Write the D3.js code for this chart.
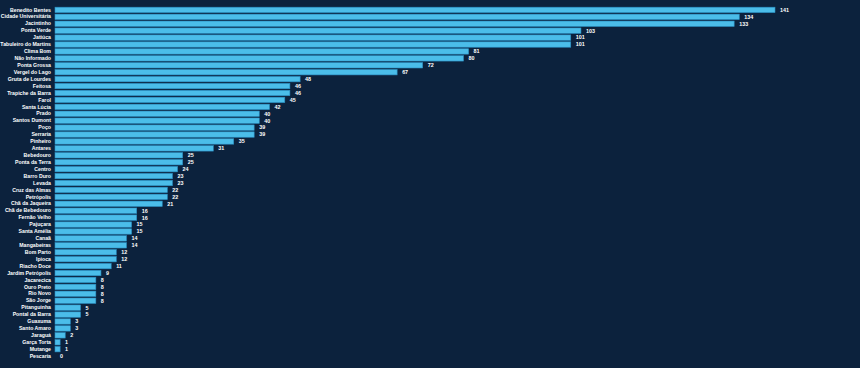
<!DOCTYPE html>
<html><head><meta charset="utf-8">
<script src="https://cdn.jsdelivr.net/npm/d3@7"></script>
<style>
html,body{margin:0;padding:0;background:#0c223d;}
svg{display:block;}
</style></head>
<body>
<svg id="chart" width="860" height="368"></svg>
<script>
const categories = ["Benedito Bentes","Cidade Universitária","Jacintinho","Ponta Verde","Jatiúca","Tabuleiro do Martins","Clima Bom","Não Informado","Ponta Grossa","Vergel do Lago","Gruta de Lourdes","Feitosa","Trapiche da Barra","Farol","Santa Lúcia","Prado","Santos Dumont","Poço","Serraria","Pinheiro","Antares","Bebedouro","Ponta da Terra","Centro","Barro Duro","Levada","Cruz das Almas","Petrópolis","Chã da Jaqueira","Chã de Bebedouro","Fernão Velho","Pajuçara","Santa Amélia","Canaã","Mangabeiras","Bom Parto","Ipioca","Riacho Doce","Jardim Petrópolis","Jacarecica","Ouro Preto","Rio Novo","São Jorge","Pitanguinha","Pontal da Barra","Guaxuma","Santo Amaro","Jaraguá","Garça Torta","Mutange","Pescaria"];
const values = [141,134,133,103,101,101,81,80,72,67,48,46,46,45,42,40,40,39,39,35,31,25,25,24,23,23,22,22,21,16,16,15,15,14,14,12,12,11,9,8,8,8,8,5,5,3,3,2,1,1,0];

(function(){
const svg = d3.select("#chart");
const mLeft = 55, mRight = 775, mTop = 6.5, mBottom = 359.5;
const x = d3.scaleLinear().domain([0, 141]).range([mLeft, mRight]);
const y = d3.scaleBand().domain(categories).range([mTop, mBottom]).paddingInner(0.22).paddingOuter(0.1);

const data = categories.map((c,i)=>({c, v: values[i]}));

svg.append("g").selectAll("rect").data(data).enter().append("rect")
  .attr("x", x(0))
  .attr("y", d => y(d.c))
  .attr("width", d => x(d.v) - x(0))
  .attr("height", y.bandwidth())
  .attr("fill", "#4bbde9")
  .attr("stroke", "#2a8fc4")
  .attr("stroke-width", 0.6);

const yAxis = d3.axisLeft(y).tickSize(0).tickPadding(4);
const gy = svg.append("g").attr("transform", `translate(${x(0)},0)`).call(yAxis);
gy.select(".domain").remove();
gy.selectAll("text").attr("fill", "#ffffff").style("font-family", "Liberation Sans, Arial, sans-serif").style("font-size", "5.2px").style("font-weight", "bold");

svg.append("g").selectAll("text").data(data).enter().append("text")
  .attr("x", d => x(d.v) + 5)
  .attr("y", d => y(d.c) + y.bandwidth()/2)
  .attr("dy", "0.35em")
  .attr("fill", "#ffffff")
  .style("font-family", "Liberation Sans, Arial, sans-serif")
  .style("font-size", "5.4px")
  .style("font-weight", "bold")
  .text(d => d.v);
})();
</script>
</body></html>
